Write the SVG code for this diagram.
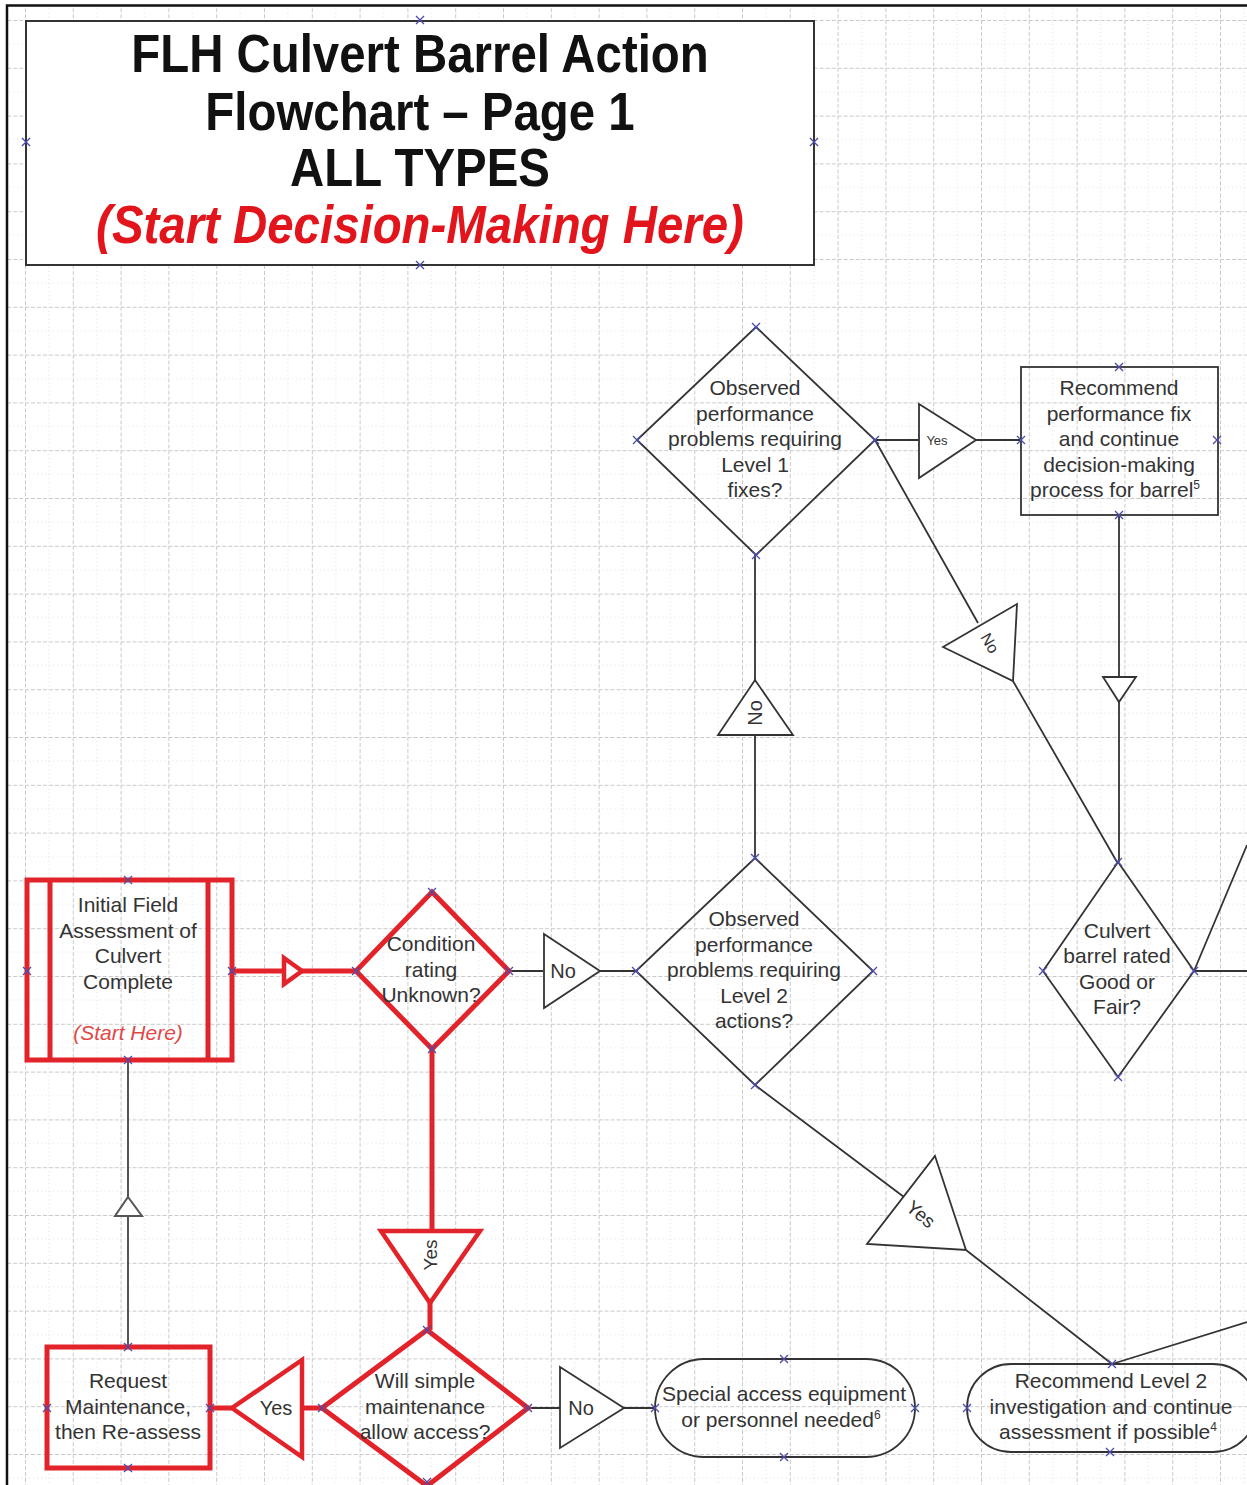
<svg xmlns="http://www.w3.org/2000/svg" xmlns:xlink="http://www.w3.org/1999/xlink" width="1247" height="1485" viewBox="0 0 1247 1485">
<style>
.t{font-family:"Liberation Sans",Arial,sans-serif;font-size:21px;fill:#333;text-anchor:middle}
.lbl{font-family:"Liberation Sans",Arial,sans-serif;fill:#333;text-anchor:middle}
.ttl{font-family:"Liberation Sans",Arial,sans-serif;font-size:47.4px;font-weight:bold;fill:#111;text-anchor:middle}
.ttlr{font-style:italic;fill:#e3151c}
.shp{fill:none;stroke:#333;stroke-width:1.8}
.red{fill:none;stroke:#e3232a;stroke-width:5;stroke-linejoin:miter}
.redf{fill:#fff;stroke:#e3232a;stroke-width:4.5;stroke-linejoin:miter}
.ln{fill:none;stroke:#333;stroke-width:1.8}
.rln{fill:none;stroke:#e3232a;stroke-width:5}
.tri{fill:#fff;stroke:#333;stroke-width:1.8;stroke-linejoin:miter}
.sup{font-size:12px}
</style>
<defs>
<pattern id="grid" x="25" y="20" width="47.8" height="47.8" patternUnits="userSpaceOnUse">
<path d="M23.9 0V47.8M0 23.9H47.8" stroke="#dedede" stroke-width="1" stroke-dasharray="1 3" fill="none"/>
<path d="M0.5 0V47.8M0 0.5H47.8" stroke="#c9c9c9" stroke-width="1" stroke-dasharray="4 2" fill="none"/>
</pattern>
<path id="cx" d="M-4 -4L4 4M-4 4L4 -4" stroke="#4b4baa" stroke-width="1.3" fill="none"/>
</defs>
<rect x="0" y="0" width="1247" height="1485" fill="#fff"/>
<rect x="7" y="5" width="1240" height="1480" fill="url(#grid)"/>
<path d="M7 1485V5.5H1247" fill="none" stroke="#111" stroke-width="2.5"/>

<g id="title">
<rect x="26" y="21" width="788" height="244" fill="#fff" stroke="#333" stroke-width="2"/>
<text class="ttl" transform="translate(420,72) scale(1,1.13)">FLH Culvert Barrel Action</text>
<text class="ttl" transform="translate(420,130) scale(1,1.13)">Flowchart – Page 1</text>
<text class="ttl" transform="translate(420,186) scale(1,1.13)">ALL TYPES</text>
<text class="ttl ttlr" transform="translate(420,243) scale(1,1.13)">(Start Decision-Making Here)</text>
</g>

<g id="connectors">
<path class="ln" d="M875 440H919M976 440H1021M875 440L978 623M1013 681L1117 862M1119 515V677M1119 702V862M755 858V735M755 680V555M509 971H543M600 971H636M755 1085L904 1197M966 1250L1112 1364M1112 1364L1247 1322M1194 971H1247M1194 971L1247 845M528 1408H560M624 1408H655"/>
<path d="M128 1347V1216M128 1197V1060" fill="none" stroke="#555" stroke-width="2"/>
<path class="rln" d="M232 971H284M302 971H356M432 1049V1231M430 1303V1330M322 1408H302M232 1408H210"/>
<polygon class="tri" points="919,404 976,440 919,478"/>
<text class="lbl" x="937" y="444.5" font-size="13">Yes</text>
<polygon class="tri" points="943,647 1017,604 1013,681"/>
<text class="lbl" font-size="16" transform="translate(990,643) rotate(60)" dy="0.35em">No</text>
<polygon class="tri" points="1103,677 1136,677 1119,702"/>
<polygon class="tri" points="755,680 793,735 718,735"/>
<text class="lbl" font-size="20" transform="translate(755,713) rotate(-90)" dy="0.35em">No</text>
<polygon class="tri" points="544,934 600,971 544,1008"/>
<text class="lbl" x="563" y="978" font-size="20">No</text>
<polygon class="tri" points="935,1156 966,1250 867,1244"/>
<text class="lbl" font-size="19" transform="translate(921,1214) rotate(40)" dy="0.35em">Yes</text>
<polygon class="tri" points="560,1367 624,1408 560,1448"/>
<text class="lbl" x="581" y="1415" font-size="20">No</text>
<polygon class="redf" points="284,958 302,971 284,984"/>
<polygon class="redf" points="381,1231 480,1231 430,1303"/>
<text class="lbl" font-size="19" transform="translate(430,1255) rotate(-90)" dy="0.35em">Yes</text>
<polygon class="redf" points="302,1360 302,1457 232,1408"/>
<text class="lbl" x="276" y="1415" font-size="20">Yes</text>
<path d="M128 1197L142 1216H115Z" fill="#fff" stroke="#555" stroke-width="2"/>
</g>

<g id="d1">
<polygon class="shp" points="756,327 875,440 756,555 637,440"/>
<text class="t"><tspan x="755" y="395">Observed</tspan><tspan x="755" y="420.5">performance</tspan><tspan x="755" y="446">problems requiring</tspan><tspan x="755" y="471.5">Level 1</tspan><tspan x="755" y="497">fixes?</tspan></text>
</g>
<g id="r1">
<rect class="shp" x="1021" y="367" width="197" height="148"/>
<text class="t"><tspan x="1119" y="395">Recommend</tspan><tspan x="1119" y="420.5">performance fix</tspan><tspan x="1119" y="446">and continue</tspan><tspan x="1119" y="471.5">decision-making</tspan><tspan x="1115" y="497">process for barrel<tspan class="sup" dy="-8">5</tspan></tspan></text>
</g>
<g id="d2">
<polygon class="shp" points="755,858 873,971 755,1085 636,971"/>
<text class="t"><tspan x="754" y="926">Observed</tspan><tspan x="754" y="951.5">performance</tspan><tspan x="754" y="977">problems requiring</tspan><tspan x="754" y="1002.5">Level 2</tspan><tspan x="754" y="1028">actions?</tspan></text>
</g>
<g id="d4">
<polygon class="shp" points="1118,862 1194,971 1118,1077 1043,971"/>
<text class="t"><tspan x="1117" y="938">Culvert</tspan><tspan x="1117" y="963">barrel rated</tspan><tspan x="1117" y="988.5">Good or</tspan><tspan x="1117" y="1014">Fair?</tspan></text>
</g>
<g id="start">
<rect class="red" x="27" y="880" width="205" height="180"/>
<path class="red" d="M50 880V1060M208 880V1060"/>
<text class="t"><tspan x="128" y="912">Initial Field</tspan><tspan x="128" y="937.5">Assessment of</tspan><tspan x="128" y="963">Culvert</tspan><tspan x="128" y="988.5">Complete</tspan></text>
<text class="t" x="128" y="1040" font-style="italic" style="fill:#e04848" font-size="20">(Start Here)</text>
</g>
<g id="d3">
<polygon class="red" points="432,892 509,971 432,1049 356,971"/>
<text class="t"><tspan x="431" y="951">Condition</tspan><tspan x="431" y="976.5">rating</tspan><tspan x="431" y="1002">Unknown?</tspan></text>
</g>
<g id="d5">
<polygon class="red" points="427,1330 528,1408 427,1486 322,1408"/>
<text class="t"><tspan x="425" y="1388">Will simple</tspan><tspan x="425" y="1413.5">maintenance</tspan><tspan x="425" y="1439">allow access?</tspan></text>
</g>
<g id="request">
<rect class="red" x="47" y="1347" width="163" height="121"/>
<text class="t"><tspan x="128" y="1388">Request</tspan><tspan x="128" y="1413.5">Maintenance,</tspan><tspan x="128" y="1439">then Re-assess</tspan></text>
</g>
<g id="term1">
<rect class="shp" x="655" y="1359" width="260" height="98" rx="49" ry="49"/>
<text class="t"><tspan x="784" y="1401">Special access equipment</tspan><tspan x="781" y="1427">or personnel needed<tspan class="sup" dy="-8">6</tspan></tspan></text>
</g>
<g id="term2">
<rect class="shp" x="967" y="1364" width="290" height="88" rx="44" ry="44"/>
<text class="t"><tspan x="1111" y="1388">Recommend Level 2</tspan><tspan x="1111" y="1413.5">investigation and continue</tspan><tspan x="1108" y="1439">assessment if possible<tspan class="sup" dy="-8">4</tspan></tspan></text>
</g>

<g id="handles">
<use xlink:href="#cx" x="420" y="20"/><use xlink:href="#cx" x="420" y="265"/><use xlink:href="#cx" x="26" y="142"/><use xlink:href="#cx" x="814" y="142"/>
<use xlink:href="#cx" x="756" y="327"/><use xlink:href="#cx" x="637" y="440"/><use xlink:href="#cx" x="875" y="440"/><use xlink:href="#cx" x="756" y="555"/>
<use xlink:href="#cx" x="1119" y="367"/><use xlink:href="#cx" x="1021" y="440"/><use xlink:href="#cx" x="1217" y="440"/><use xlink:href="#cx" x="1119" y="515"/>
<use xlink:href="#cx" x="755" y="858"/><use xlink:href="#cx" x="636" y="971"/><use xlink:href="#cx" x="873" y="971"/><use xlink:href="#cx" x="755" y="1085"/>
<use xlink:href="#cx" x="1118" y="862"/><use xlink:href="#cx" x="1043" y="971"/><use xlink:href="#cx" x="1194" y="971"/><use xlink:href="#cx" x="1118" y="1077"/>
<use xlink:href="#cx" x="432" y="892"/><use xlink:href="#cx" x="356" y="971"/><use xlink:href="#cx" x="509" y="971"/><use xlink:href="#cx" x="432" y="1049"/>
<use xlink:href="#cx" x="128" y="880"/><use xlink:href="#cx" x="27" y="971"/><use xlink:href="#cx" x="232" y="971"/><use xlink:href="#cx" x="128" y="1060"/>
<use xlink:href="#cx" x="128" y="1347"/><use xlink:href="#cx" x="47" y="1408"/><use xlink:href="#cx" x="210" y="1408"/><use xlink:href="#cx" x="128" y="1468"/>
<use xlink:href="#cx" x="427" y="1330"/><use xlink:href="#cx" x="322" y="1408"/><use xlink:href="#cx" x="528" y="1408"/><use xlink:href="#cx" x="427" y="1482"/>
<use xlink:href="#cx" x="784" y="1359"/><use xlink:href="#cx" x="655" y="1408"/><use xlink:href="#cx" x="915" y="1408"/><use xlink:href="#cx" x="784" y="1457"/>
<use xlink:href="#cx" x="1112" y="1364"/><use xlink:href="#cx" x="967" y="1408"/><use xlink:href="#cx" x="1110" y="1452"/>
</g>
</svg>
